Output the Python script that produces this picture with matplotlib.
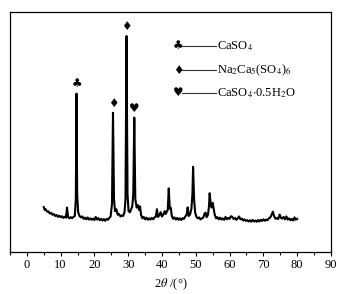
import matplotlib
matplotlib.use('agg')
import matplotlib.pyplot as plt
import numpy as np

plt.rcParams['font.family'] = ['Liberation Serif', 'DejaVu Sans']
plt.rcParams['mathtext.fontset'] = 'stix'

# XRD pattern (2theta in degrees, intensity in arbitrary units)
two_theta = [
    5.0, 5.3, 5.6, 6.0, 6.4, 6.8, 7.2, 7.6, 8.0, 8.4, 8.8, 9.2, 9.6, 10.0,
    10.4, 10.8, 11.2, 11.6, 11.9, 12.2, 12.6, 13.0, 13.4, 13.8, 14.2, 14.5,
    14.7, 14.9, 15.2, 15.6, 16.0, 16.4, 16.8, 17.2, 17.6, 18.0, 18.4, 18.8,
    19.2, 19.6, 20.0, 20.4, 20.8, 21.2, 21.6, 22.0, 22.4, 22.8, 23.2, 23.6,
    24.0, 24.4, 24.8, 25.2, 25.5, 25.8, 26.1, 26.5, 26.9, 27.3, 27.7, 28.1,
    28.5, 28.9, 29.2, 29.5, 29.8, 30.1, 30.5, 30.9, 31.2, 31.5, 31.8, 32.1,
    32.5, 32.9, 33.2, 33.5, 33.8, 34.2, 34.6, 35.0, 35.4, 35.8, 36.2, 36.6,
    37.0, 37.4, 37.8, 38.2, 38.5, 38.8, 39.2, 39.6, 40.0, 40.4, 40.8, 41.1,
    41.4, 41.7, 42.0, 42.3, 42.6, 42.9, 43.3, 43.7, 44.1, 44.5, 44.9, 45.3,
    45.7, 46.1, 46.5, 46.9, 47.3, 47.6, 47.9, 48.3, 48.7, 49.0, 49.2, 49.5,
    49.8, 50.2, 50.6, 51.0, 51.4, 51.8, 52.2, 52.6, 52.9, 53.2, 53.6, 53.9,
    54.1, 54.4, 54.7, 55.0, 55.3, 55.6, 56.0, 56.4, 56.8, 57.2, 57.6, 58.0,
    58.4, 58.8, 59.2, 59.6, 60.0, 60.4, 60.8, 61.2, 61.6, 62.0, 62.4, 62.8,
    63.2, 63.6, 64.0, 64.4, 64.8, 65.2, 65.6, 66.0, 66.4, 66.8, 67.2, 67.6,
    68.0, 68.4, 68.8, 69.2, 69.6, 70.0, 70.4, 70.8, 71.2, 71.6, 72.0, 72.4,
    72.8, 73.2, 73.6, 74.0, 74.4, 74.8, 75.2, 75.6, 76.0, 76.4, 76.8, 77.2,
    77.6, 78.0, 78.4, 78.8, 79.2, 79.6, 80.0]
intensity = [
    18.7, 17.5, 17.8, 16.8, 16.9, 16.0, 16.3, 15.5, 15.8, 15.0, 15.4, 14.6,
    15.1, 14.5, 14.9, 14.2, 14.7, 14.3, 18.5, 14.6, 14.0, 14.5, 14.1, 14.6,
    15.0, 22.0, 66.0, 24.0, 16.5, 15.0, 14.4, 14.8, 13.8, 14.3, 13.6, 14.4,
    13.5, 14.0, 13.4, 13.9, 13.3, 14.6, 13.5, 14.1, 13.2, 13.8, 13.1, 13.7,
    13.0, 13.8, 13.4, 14.2, 14.8, 20.0, 58.0, 22.0, 17.0, 17.8, 15.5, 15.8,
    14.8, 15.2, 15.0, 16.5, 22.0, 90.0, 24.0, 17.0, 16.5, 18.0, 19.0, 24.0,
    56.0, 22.0, 18.5, 19.5, 17.5, 19.0, 15.5, 14.0, 14.6, 13.6, 14.3, 13.4,
    14.0, 13.5, 14.2, 13.6, 14.4, 14.8, 17.8, 14.6, 15.2, 16.6, 14.8, 15.6,
    17.0, 15.8, 16.8, 17.5, 26.5, 18.0, 18.4, 15.0, 13.8, 14.4, 13.5, 14.2,
    13.4, 14.0, 13.3, 14.1, 13.8, 14.8, 15.6, 18.6, 15.0, 15.6, 18.0, 24.0,
    35.5, 22.0, 16.5, 14.6, 14.0, 14.4, 13.5, 14.0, 14.3, 16.0, 16.4, 14.5,
    15.5, 19.0, 24.5, 20.0, 18.5, 20.5, 18.0, 15.5, 14.0, 14.5, 13.6, 14.3,
    13.5, 14.0, 13.4, 14.6, 13.6, 14.2, 13.8, 14.9, 14.6, 13.7, 14.2, 13.4,
    14.0, 14.8, 13.6, 13.9, 13.1, 13.6, 12.9, 13.3, 12.7, 13.2, 12.6, 13.4,
    12.7, 13.1, 12.6, 13.3, 12.7, 13.4, 12.9, 13.6, 13.0, 13.5, 13.2, 14.0,
    14.3, 15.4, 16.8, 14.8, 13.8, 14.2, 13.7, 15.6, 14.2, 13.9, 14.6, 13.6,
    14.8, 13.5, 14.0, 13.2, 13.8, 13.1, 14.4, 13.4, 13.8]

# phase identification of the main peaks
peak_pos = [14.7, 25.5, 29.5, 31.8]
peak_sym = ['\u2663', '\u2666', '\u2666', '\u2665']

phase_sym = ['\u2663', '\u2666', '\u2665']
phase_names = [r'CaSO$_4$', r'Na$_2$Ca$_5$(SO$_4$)$_6$',
               r'CaSO$_4$$\cdot$0.5H$_2$O']

fig = plt.figure(figsize=(3.54, 2.94), dpi=100)
ax = fig.add_axes([0.028, 0.143, 0.907, 0.816])

ax.plot(two_theta, intensity, color='black', lw=1.5)

# markers above peaks
x_arr = np.asarray(two_theta)
y_arr = np.asarray(intensity)
for pos, sym in zip(peak_pos, peak_sym):
    top = y_arr[np.argmin(np.abs(x_arr - pos))]
    ax.text(pos, top + 4, sym, ha='center', va='center',
            family='DejaVu Sans', fontsize=8.5, color='black')

# legend drawn by hand
rows = [0.860, 0.758, 0.664]
for sym, name, yy in zip(phase_sym, phase_names, rows):
    ax.text(0.523, yy, sym, transform=ax.transAxes, ha='center',
            va='center', family='DejaVu Sans', fontsize=8.5)
    ax.plot([0.537, 0.641], [yy, yy], transform=ax.transAxes,
            color='#333333', lw=0.8)
    ax.text(0.645, yy, name, transform=ax.transAxes, ha='left',
            va='center', fontsize=9)

ax.set_xlim(-5, 90)
ax.set_ylim(0, 100)
ax.set_xticks(np.arange(0, 91, 10))
ax.set_xticks(np.arange(-5, 91, 5), minor=True)
ax.tick_params(axis='x', which='major', direction='out', length=3,
               width=0.8, labelsize=9, pad=2)
ax.tick_params(axis='x', which='minor', direction='out', length=2,
               width=0.8)
ax.set_yticks([])
for s in ax.spines.values():
    s.set_linewidth(0.9)

ax.set_xlabel(r'2$\theta$ /(°)', fontsize=9, labelpad=4)

fig.savefig('out.png', dpi=100)
